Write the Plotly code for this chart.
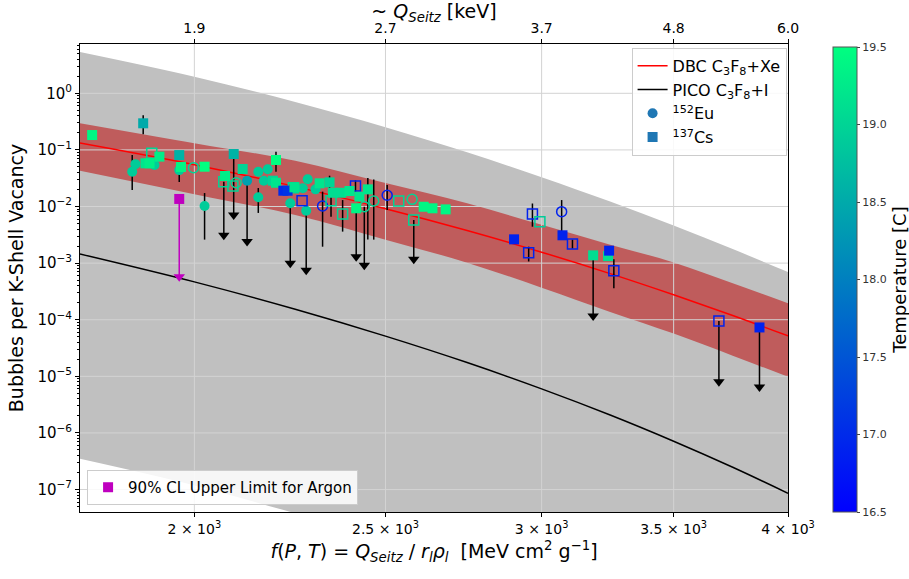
import numpy as np
import plotly.graph_objects as go

# ---------------- data ----------------
curve_f = [1750, 2000, 2250, 2500, 2750, 3000, 3250, 3500, 3750, 4000]
dbc_central = [0.132, 0.0547, 0.02244, 0.00916, 0.00377, 0.00156, 6.53e-4, 2.76e-4, 1.19e-4, 5.18e-5]
dbc_upper = [0.296, 0.131, 0.0643, 0.0259, 0.01143, 4.74e-3, 2.12e-3, 1.03e-3, 4.41e-4, 1.96e-4]
dbc_lower = [0.0429, 0.0165, 7.05e-3, 2.59e-3, 1.02e-3, 3.68e-4, 1.37e-4, 5.68e-5, 2.31e-5, 9.8e-6]
pico_curve = [1.45e-3, 4.66e-4, 1.53e-4, 5.13e-5, 1.75e-5, 6.0e-6, 2.07e-6, 7.13e-7, 2.47e-7, 8.57e-8]
envelope_upper = [5.35, 1.96, 0.705, 0.252, 0.0907, 0.033, 0.01222, 4.62e-3, 1.77e-3, 6.97e-4]
envelope_lower = [3.48e-7, 1.18e-7, 3.81e-8, 1.36e-8, 4.4e-9, 1.57e-9, 5.0e-10, 1.77e-10, 5.8e-11, 2.06e-11]

pt_f = [1775, 1884, 1903, 1920, 1889, 1898, 1867, 1860, 1909, 1965,
        1969, 1965, 1998, 2024, 2024, 2073, 2070, 2094, 2116, 2092,
        2100, 2127, 2155, 2155, 2169, 2179, 2200, 2192, 2200, 2219,
        2230, 2248, 2245, 2237, 2268, 2283, 2270, 2279, 2315, 2342,
        2304, 2323, 2346, 2351, 2374, 2378, 2414, 2397, 2425, 2449,
        2416, 2439, 2466, 2505, 2539, 2579, 2584, 2614, 2641, 2682,
        2905, 2955, 2968, 2994, 3071, 3074, 3110, 3186, 3242, 3246,
        3264, 3690, 3869]
pt_y = [0.183, 0.295, 0.087, 0.076, 0.058, 0.058, 0.056, 0.041, 0.054, 0.081,
        0.050, 0.044, 0.0485, 0.0505, 0.0102, 0.0346, 0.0274, 0.0847, 0.046, 0.023,
        0.0263, 0.0286, 0.0412, 0.0146, 0.0286, 0.0454, 0.0663, 0.0286, 0.0263, 0.019,
        0.019, 0.0218, 0.0215, 0.0114, 0.0127, 0.0303, 0.021, 0.0084, 0.0257, 0.0267,
        0.0201, 0.0102, 0.0127, 0.0175, 0.0175, 0.0074, 0.023, 0.0188, 0.0149, 0.0201,
        0.0093, 0.0099, 0.0125, 0.0158, 0.0125, 0.0134, 0.0058, 0.0099, 0.0093, 0.0089,
        0.00263, 0.00153, 0.0074, 0.0054, 0.0081, 0.0031, 0.00217, 0.00137, 0.00133, 0.00166,
        7.3e-4, 9.5e-5, 7.3e-5]
pt_temp = [19.4, 18.5, 19.0, 19.3, 19.2, 19.3, 18.9, 18.9, 18.9, 18.6,
           19.4, 18.9, 19.0, 19.5, 18.9, 19.3, 19.0, 18.6, 19.0, 19.0,
           19.0, 18.4, 18.9, 18.9, 18.9, 18.9, 19.5, 19.0, 19.2, 17.0,
           17.1, 19.2, 19.0, 18.9, 16.9, 18.9, 18.9, 18.9, 19.2, 19.0,
           18.9, 16.9, 19.0, 19.1, 19.1, 19.0, 16.9, 19.2, 19.2, 19.2,
           19.4, 19.0, 19.0, 16.9, 19.0, 19.0, 19.0, 19.4, 19.4, 19.4,
           16.9, 16.9, 16.9, 18.9, 16.9, 16.9, 16.9, 19.1, 19.1, 16.9,
           16.9, 16.9, 16.9]
pt_source = ["Cs", "Cs", "Cs", "Cs", "Cs", "Cs", "Eu", "Eu", "Eu", "Cs",
             "Cs", "Eu", "Eu", "Cs", "Eu", "Cs", "Cs", "Cs", "Cs", "Cs",
             "Eu", "Eu", "Eu", "Eu", "Eu", "Eu", "Cs", "Cs", "Cs", "Cs",
             "Cs", "Cs", "Cs", "Eu", "Cs", "Eu", "Eu", "Eu", "Cs", "Cs",
             "Eu", "Eu", "Cs", "Cs", "Cs", "Cs", "Cs", "Cs", "Cs", "Cs",
             "Cs", "Eu", "Eu", "Eu", "Cs", "Eu", "Cs", "Cs", "Cs", "Cs",
             "Cs", "Cs", "Cs", "Cs", "Eu", "Cs", "Cs", "Cs", "Cs", "Cs",
             "Cs", "Cs", "Cs"]
pt_filled = [1, 1, 0, 1, 1, 1, 1, 1, 1, 1,
             1, 1, 0, 1, 1, 1, 0, 1, 1, 0,
             0, 1, 1, 1, 1, 1, 1, 1, 1, 1,
             1, 1, 0, 1, 0, 1, 1, 1, 1, 1,
             1, 0, 0, 1, 1, 0, 0, 1, 1, 1,
             1, 0, 0, 0, 0, 0, 0, 1, 1, 1,
             1, 0, 0, 0, 0, 1, 0, 1, 1, 1,
             0, 0, 1]
N = None
pt_err_lo = [N, 0.19, N, N, N, N, N, 0.0196, N, N,
             N, 0.027, N, N, 0.0026, N, N, N, N, N,
             N, N, N, 0.0077, N, N, 0.0412, N, N, N,
             N, N, N, N, N, N, N, N, N, 0.02,
             N, 0.00195, 0.0066, N, N, 0.0036, 0.018, N, N, 0.0026,
             N, N, 0.0026, 0.0087, N, N, N, N, N, N,
             0.0023, 0.00107, 0.0044, N, 0.0034, N, 0.0018, N, N, 0.0013,
             3.6e-4, N, N]
pt_err_hi = [N, 0.41, N, N, N, N, N, 0.081, N, N,
             N, 0.056, N, N, 0.0173, N, N, N, N, N,
             N, N, N, 0.0212, N, N, 0.093, N, N, N,
             N, N, N, N, N, N, N, N, N, 0.035,
             N, 0.0183, 0.016, N, N, 0.013, 0.029, N, N, 0.032,
             N, N, 0.03, 0.024, N, N, N, N, N, N,
             0.003, 0.00195, 0.0113, N, 0.013, N, 0.0026, N, N, 0.002,
             0.00117, N, N]
pt_uplim_end = [N, N, N, N, N, N, N, N, N, N,
                N, N, N, N, N, N, 0.0031, 0.0071, N, N,
                N, 0.0024, N, N, N, N, N, N, N, N,
                N, N, N, 9.9e-4, N, N, N, 7.5e-4, N, N,
                N, N, N, N, N, N, N, N, N, N,
                0.0013, 9.2e-4, N, N, N, N, 0.00117, N, N, N,
                N, N, N, N, N, N, N, 1.16e-4, N, N,
                N, 8.0e-6, 6.5e-6]

argon_f = [1965]
argon_y = [0.0136]
argon_end = [5.75e-4]

x_tickvals = [2000, 2500, 3000, 3500, 4000]
x_ticktext = ["2 × 10<sup>3</sup>", "2.5 × 10<sup>3</sup>", "3 × 10<sup>3</sup>",
              "3.5 × 10<sup>3</sup>", "4 × 10<sup>3</sup>"]
top_ticktext = ["1.9", "2.7", "3.7", "4.8", "6.0"]
y_exponents = [0, -1, -2, -3, -4, -5, -6, -7]
cbar_ticks = [16.5, 17.0, 17.5, 18.0, 18.5, 19.0, 19.5]

# ---------------- figure ----------------
FONT = "DejaVu Sans"
winter = [[0, "rgb(0,0,255)"], [1, "rgb(0,255,128)"]]
xr = [np.log10(1750), np.log10(4000)]
yr = [-7.397, 0.871]

fig = go.Figure()

# grey envelope
fig.add_trace(go.Scatter(x=curve_f, y=envelope_lower, mode="lines", line=dict(width=0, shape="spline"),
                         showlegend=False, hoverinfo="skip"))
fig.add_trace(go.Scatter(x=curve_f, y=envelope_upper, mode="lines", line=dict(width=0, shape="spline"),
                         fill="tonexty", fillcolor="#c0c0c0", showlegend=False, hoverinfo="skip"))
# red band
fig.add_trace(go.Scatter(x=curve_f, y=dbc_lower, mode="lines", line=dict(width=0, shape="spline"),
                         showlegend=False, hoverinfo="skip"))
fig.add_trace(go.Scatter(x=curve_f, y=dbc_upper, mode="lines", line=dict(width=0, shape="spline"),
                         fill="tonexty", fillcolor="rgb(191,92,92)", showlegend=False, hoverinfo="skip"))

# grid lines drawn over fills
gx, gy = [], []
for v in x_tickvals[:-1]:
    gx += [v, v, None]
    gy += [10 ** yr[0], 10 ** yr[1], None]
for e in y_exponents:
    gx += [10 ** xr[0], 10 ** xr[1], None]
    gy += [10.0 ** e, 10.0 ** e, None]
fig.add_trace(go.Scatter(x=gx, y=gy, mode="lines", line=dict(color="#d3d3d3", width=1),
                         showlegend=False, hoverinfo="skip"))

# curves
fig.add_trace(go.Scatter(x=curve_f, y=dbc_central, mode="lines", line=dict(color="red", width=1.5, shape="spline"),
                         name="DBC C<sub>3</sub>F<sub>8</sub>+Xe", legend="legend", legendgroup="a"))
fig.add_trace(go.Scatter(x=curve_f, y=pico_curve, mode="lines", line=dict(color="black", width=1.5, shape="spline"),
                         name="PICO C<sub>3</sub>F<sub>8</sub>+I", legend="legend", legendgroup="b"))

# error bars
ex, ey = [], []
for f, lo, hi in zip(pt_f, pt_err_lo, pt_err_hi):
    if lo is not None:
        ex += [f, f, None]
        ey += [lo, hi, None]
fig.add_trace(go.Scatter(x=ex, y=ey, mode="lines", line=dict(color="black", width=1.5),
                         showlegend=False, hoverinfo="skip"))

# upper-limit arrows
ax_, ay_, hx, hy = [], [], [], []
for f, y, end in zip(pt_f, pt_y, pt_uplim_end):
    if end is not None:
        ax_ += [f, f, None]
        ay_ += [y, end, None]
        hx.append(f)
        hy.append(end)
fig.add_trace(go.Scatter(x=ax_, y=ay_, mode="lines", line=dict(color="black", width=1.5),
                         showlegend=False, hoverinfo="skip"))
fig.add_trace(go.Scatter(x=hx, y=hy, mode="markers", marker=dict(symbol="triangle-down", size=10, color="black"),
                         showlegend=False, hoverinfo="skip"))

# argon limit
fig.add_trace(go.Scatter(x=[argon_f[0], argon_f[0]], y=[argon_y[0], argon_end[0]], mode="lines",
                         line=dict(color="#bf00bf", width=1.5), showlegend=False, hoverinfo="skip"))
fig.add_trace(go.Scatter(x=argon_f, y=argon_end, mode="markers",
                         marker=dict(symbol="triangle-down", size=10, color="#bf00bf"),
                         showlegend=False, hoverinfo="skip"))
fig.add_trace(go.Scatter(x=argon_f, y=argon_y, mode="markers",
                         marker=dict(symbol="square", size=10, color="#bf00bf"),
                         name="90% CL Upper Limit for Argon", legend="legend2"))

# data markers
for src, sym in [("Eu", "circle"), ("Cs", "square")]:
    for filled in (0, 1):
        idx = [i for i in range(len(pt_f)) if pt_source[i] == src and pt_filled[i] == filled]
        symbol = sym if filled else sym + "-open"
        mk = dict(symbol=symbol, size=10, color=[pt_temp[i] for i in idx], colorscale=winter,
                  cmin=16.5, cmax=19.5, line=dict(width=1.5 if not filled else 0))
        if src == "Cs" and filled == 1:
            mk.update(showscale=True, colorbar=dict(
                thickness=24, len=465 / 468, x=(833 - 80) / 708, xanchor="left", y=0, yanchor="bottom",
                xpad=0, ypad=0,
                tickvals=cbar_ticks, ticktext=[f"{t:.1f}" for t in cbar_ticks],
                ticks="outside", ticklen=3, tickfont=dict(size=11, color="#333", family=FONT),
                outlinewidth=1, outlinecolor="#555",
                title=dict(text="Temperature [C]", side="right", font=dict(size=18, family=FONT))))
        fig.add_trace(go.Scatter(x=[pt_f[i] for i in idx], y=[pt_y[i] for i in idx], mode="markers",
                                 marker=mk, showlegend=False, hoverinfo="skip"))

# legend proxies
fig.add_trace(go.Scatter(x=[None], y=[None], mode="markers", marker=dict(symbol="circle", size=10, color="#1f77b4"),
                         name="<sup>152</sup>Eu", legend="legend", legendgroup="c"))
fig.add_trace(go.Scatter(x=[None], y=[None], mode="markers", marker=dict(symbol="square", size=10, color="#1f77b4"),
                         name="<sup>137</sup>Cs", legend="legend", legendgroup="d"))

# top axis anchor trace
fig.add_trace(go.Scatter(x=[2000], y=[1], xaxis="x2", mode="markers", marker=dict(opacity=0),
                         showlegend=False, hoverinfo="skip"))

fig.update_layout(
    width=909, height=579,
    margin=dict(l=80, r=121, t=44, b=67, autoexpand=False),
    paper_bgcolor="white", plot_bgcolor="white",
    font=dict(family=FONT, color="black"),
    showlegend=True,
    xaxis=dict(type="log", range=xr, tickvals=x_tickvals, ticktext=x_ticktext,
               ticks="outside", ticklen=4, tickcolor="black", showline=True, linecolor="black",
               linewidth=1, showgrid=False, zeroline=False, tickfont=dict(size=14),
               title=dict(text="<i>f</i>(<i>P</i>, <i>T</i>) = <i>Q</i><sub><i>Seitz</i></sub> / <i>r<sub>l</sub>ρ<sub>l</sub></i>  [MeV cm<sup>2</sup> g<sup>−1</sup>]",
                          font=dict(size=19), standoff=8)),
    xaxis2=dict(type="log", range=xr, overlaying="x", side="top", tickvals=x_tickvals, ticktext=top_ticktext,
                ticks="outside", ticklen=4, tickcolor="black", showline=True, linecolor="black",
                linewidth=1, showgrid=False, zeroline=False, tickfont=dict(size=14),
                title=dict(text="~ <i>Q<sub>Seitz</sub></i> [keV]", font=dict(size=19), standoff=4)),
    yaxis=dict(type="log", range=yr, tickvals=[10.0 ** e for e in y_exponents],
               ticktext=["10<sup>%s</sup>" % (str(e).replace("-", "−")) for e in y_exponents],
               ticks="outside", ticklen=4, tickcolor="black", showline=True, mirror=True, linecolor="black",
               linewidth=1, showgrid=False, zeroline=False, tickfont=dict(size=15),
               minor=dict(ticks="outside", ticklen=2, tickcolor="black",
                          tickvals=[m * 10.0 ** e for e in range(-8, 1) for m in range(2, 10)]),
               title=dict(text="Bubbles per K-Shell Vacancy", font=dict(size=19), standoff=8)),
    legend=dict(x=0.998, y=0.992, xanchor="right", yanchor="top", bgcolor="rgba(255,255,255,0.85)",
                bordercolor="#cccccc", borderwidth=1, font=dict(size=16), traceorder="normal",
                tracegroupgap=6),
    legend2=dict(x=0.01, y=0.015, xanchor="left", yanchor="bottom", bgcolor="rgba(255,255,255,0.85)",
                 bordercolor="#cccccc", borderwidth=1, font=dict(size=15)),
)

fig.write_html("out.html")
